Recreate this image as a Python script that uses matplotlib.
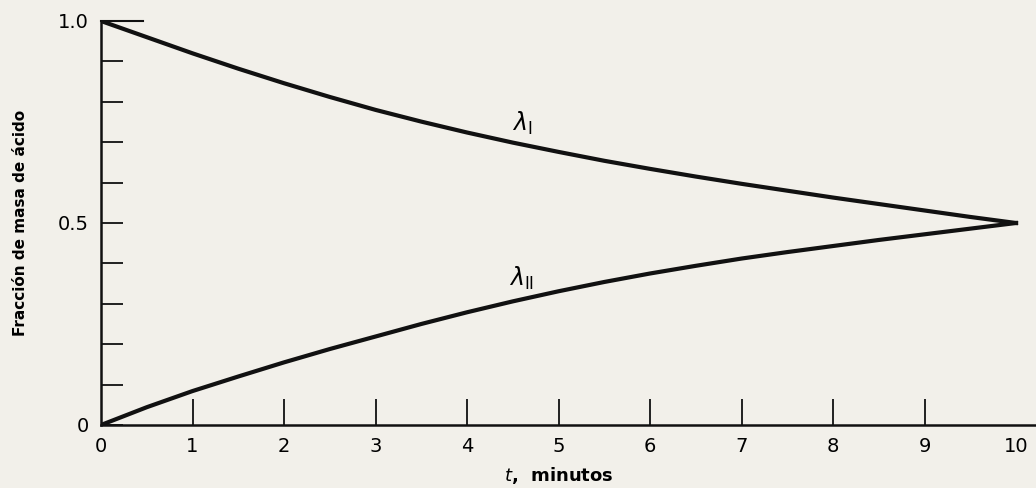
import numpy as np
import matplotlib.pyplot as plt

# tiempo en minutos
t = [0, 0.5, 1, 1.5, 2, 2.5, 3, 3.5, 4, 4.5, 5, 5.5, 6, 6.5, 7, 7.5, 8, 8.5, 9, 9.5, 10]
# fraccion de masa de acido en cada fase
lam_1 = [1.0, 0.960, 0.920, 0.882, 0.846, 0.812, 0.780, 0.751, 0.724, 0.699, 0.676,
         0.654, 0.634, 0.615, 0.597, 0.580, 0.563, 0.547, 0.531, 0.515, 0.5]
lam_2 = [0.0, 0.044, 0.084, 0.120, 0.155, 0.188, 0.219, 0.250, 0.279, 0.306, 0.331,
         0.354, 0.375, 0.394, 0.412, 0.428, 0.443, 0.458, 0.472, 0.486, 0.5]

x_labels = [0, 1, 2, 3, 4, 5, 6, 7, 8, 9, 10]
y_labels = {0: "0", 0.5: "0.5", 1.0: "1.0"}

bg = "#f2f0ea"
ink = "#111111"
fig = plt.figure(figsize=(10.36, 4.88), dpi=100, facecolor=bg)
ax = fig.add_axes([101/1036, 1 - 425/488, 935/1036, 404/488], facecolor=bg)

ax.plot(t, lam_1, color=ink, lw=3, solid_joinstyle="round")
ax.plot(t, lam_2, color=ink, lw=3, solid_joinstyle="round")

ax.set_xlim(0, 935/91.5)
ax.set_ylim(0, 1.0)
for s in ["top", "right"]:
    ax.spines[s].set_visible(False)
for s in ["left", "bottom"]:
    ax.spines[s].set_linewidth(1.8)
    ax.spines[s].set_color(ink)
ax.spines["left"].set_bounds(0, 1.0)

ax.set_xticks(x_labels)
ax.set_xticklabels([str(v) for v in x_labels])
ax.tick_params(axis="x", direction="in", length=19, width=1.3, pad=9,
               labelsize=14, color=ink)
# sin marca en 0 ni en 10
xt = ax.xaxis.get_major_ticks()
xt[0].tick1line.set_visible(False)
xt[-1].tick1line.set_visible(False)

yt = np.round(np.arange(0, 1.01, 0.1), 1)
ax.set_yticks(yt)
ax.set_yticklabels([y_labels.get(v, "") for v in yt])
ax.tick_params(axis="y", direction="in", length=16, width=1.3, pad=9,
               labelsize=14, color=ink)
# marca superior mas larga en 1.0
ax.plot([0, 0.46], [1.0, 1.0], color=ink, lw=1.5, clip_on=False)

ax.text(4.6, 0.712, r"$\lambda_{\rm I}$", fontsize=17, ha="center", va="bottom")
ax.text(4.6, 0.328, r"$\lambda_{\rm II}$", fontsize=17, ha="center", va="bottom")

ax.set_xlabel(r"$t$,  minutos", fontsize=13, fontweight="bold")
ax.xaxis.set_label_coords(5/(935/91.5), -0.1)
ax.set_ylabel("Fracción de masa de ácido", fontsize=11, fontweight="bold")
ax.yaxis.set_label_coords(-0.078, 0.5)

fig.savefig("out.png", dpi=100, facecolor=bg)
